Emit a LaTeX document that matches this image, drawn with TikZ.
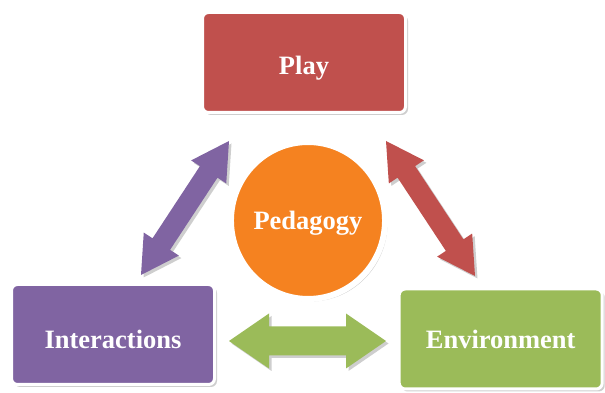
\documentclass[tikz,border=0pt]{standalone}
\usepackage{fontspec}
\setmainfont{Liberation Serif}
\usetikzlibrary{calc,shapes.geometric,shadows}
\definecolor{cred}{HTML}{C0504D}
\definecolor{cpurple}{HTML}{8064A2}
\definecolor{cgreen}{HTML}{9BBB59}
\definecolor{corange}{HTML}{F58220}
\tikzset{
  shad/.style={drop shadow={shadow xshift=2.5pt,shadow yshift=-2.5pt,fill=black!35,opacity=0.55}},
  boxnode/.style={rounded corners=6pt,draw=white,line width=3pt,minimum width=203pt,minimum height=100pt,
     inner sep=0pt,text=white,font=\bfseries\fontsize{26.5}{30}\selectfont,text depth=0pt,shad},
  ellnode/.style={ellipse,draw=white,line width=6pt,minimum width=141.5pt,minimum height=157pt,
     inner sep=0pt,text=white,font=\bfseries\fontsize{26.5}{30}\selectfont,text depth=0pt,shad},
}
% #1 start, #2 end, #3 style, #4 shaft half width, #5 head half width, #6 head length, #7 prefix
\newcommand{\fatarrow}[7]{%
 \coordinate (#7c1) at ($(#1)!#6!(#2)$);
 \coordinate (#7c2) at ($(#2)!#6!(#1)$);
 \fill[#3] (#1) -- ($(#7c1)!#5!90:(#2)$) -- ($(#7c1)!#4!90:(#2)$) -- ($(#7c2)!#4!-90:(#1)$)
   -- ($(#7c2)!#5!-90:(#1)$) -- (#2) -- ($(#7c2)!#5!90:(#1)$) -- ($(#7c2)!#4!90:(#1)$)
   -- ($(#7c1)!#4!-90:(#2)$) -- ($(#7c1)!#5!-90:(#2)$) -- cycle;
}
\begin{document}
\begin{tikzpicture}[x=1pt,y=1pt]
\useasboundingbox (0,0) rectangle (605,393);
% arrows
\coordinate (pa) at (141,118);
\coordinate (pb) at (229,252);
\coordinate (ra) at (386,252);
\coordinate (rb) at (475,117);
\coordinate (ga) at (229,52);
\coordinate (gb) at (386,52);
\fatarrow{pa}{pb}{cpurple,shad}{10.5pt}{21pt}{37pt}{p}
\fatarrow{ra}{rb}{cred,shad}{10.5pt}{21pt}{37pt}{r}
\fatarrow{ga}{gb}{cgreen,shad}{14.5pt}{27.5pt}{40pt}{g}
% nodes
\node[boxnode,fill=cred,text height=24.5pt] (play) at (304,330.5) {Play};
\node[boxnode,fill=cpurple,text height=28.5pt] (inter) at (113,58.5) {Interactions};
\node[boxnode,fill=cgreen,text height=19.5pt] (env) at (500.7,54) {Environment};
\node[ellnode,fill=corange,text height=18.5pt] (ped) at (308,172.5) {Pedagogy};
\end{tikzpicture}
\end{document}
